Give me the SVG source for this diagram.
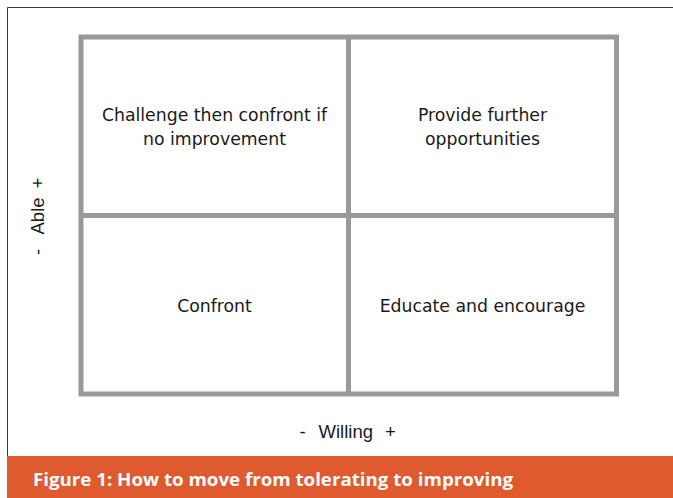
<svg xmlns="http://www.w3.org/2000/svg" width="673" height="498" viewBox="0 0 673 498">
  <style>
    .frame { fill: none; stroke: #3a3a3a; stroke-width: 1; }
    .grid { fill: none; stroke: #999999; stroke-width: 5; }
    .cell { font-family: "DejaVu Sans", "Noto Sans", sans-serif; font-size: 17.3px; fill: #1a1a1a; text-anchor: middle; }
    .axis { font-family: "Liberation Sans", Arial, sans-serif; font-size: 18.5px; fill: #1a1a1a; }
    .caption { font-family: "Open Sans", "Noto Sans", sans-serif; font-size: 17.5px; font-weight: bold; fill: #ffffff; }
  </style>
  <rect width="673" height="498" fill="#ffffff"/>

  <!-- outer frame -->
  <path class="frame" d="M7.5 457 V7.5 H673"/>

  <!-- quadrant grid -->
  <g id="connectors">
    <rect class="grid" x="81" y="37" width="535.5" height="357"/>
    <line class="grid" x1="348.5" y1="37" x2="348.5" y2="394"/>
    <line class="grid" x1="81" y1="215.5" x2="616.5" y2="215.5"/>
  </g>

  <g id="q-top-left">
    <text class="cell" x="214.5" y="121">Challenge then confront if</text>
    <text class="cell" x="214.5" y="145">no improvement</text>
  </g>
  <g id="q-top-right">
    <text class="cell" x="482.5" y="121">Provide further</text>
    <text class="cell" x="482.5" y="145">opportunities</text>
  </g>
  <g id="q-bottom-left">
    <text class="cell" x="214.5" y="312">Confront</text>
  </g>
  <g id="q-bottom-right">
    <text class="cell" x="482.5" y="312">Educate and encourage</text>
  </g>

  <!-- axis labels -->
  <g id="axis-able">
    <text class="axis" transform="translate(44 0) rotate(-90)"><tspan x="-255">-</tspan><tspan x="-234.5">Able</tspan><tspan x="-188.5">+</tspan></text>
  </g>
  <g id="axis-willing">
    <text class="axis" y="438"><tspan x="299.5">-</tspan><tspan x="318.5">Willing</tspan><tspan x="385">+</tspan></text>
  </g>

  <!-- caption band -->
  <g id="caption">
    <rect x="7" y="456" width="666" height="42" fill="#e05a30"/>
    <text class="caption" x="33" y="486" textLength="480" lengthAdjust="spacingAndGlyphs">Figure 1: How to move from tolerating to improving</text>
  </g>
</svg>
